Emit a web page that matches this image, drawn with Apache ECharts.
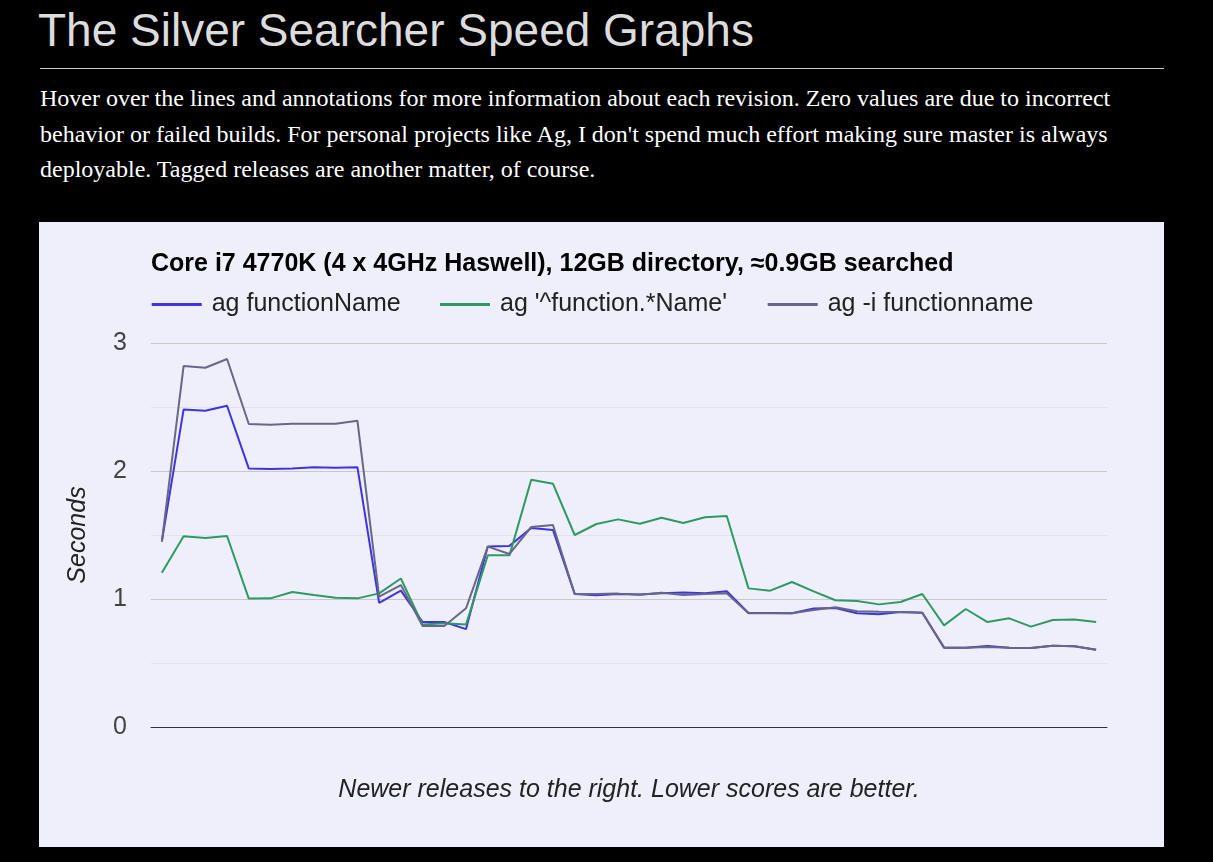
<!DOCTYPE html>
<html>
<head>
<meta charset="utf-8">
<script src="https://cdn.jsdelivr.net/npm/echarts@6/dist/echarts.min.js"></script>
<style>
  html, body { margin:0; padding:0; background:#000; width:1213px; height:862px; overflow:hidden; }
  #h1 { position:absolute; left:38px; top:7px; margin:0; font-family:"Liberation Sans", Arial, sans-serif; font-weight:normal; font-size:46px; line-height:46px; color:#dcdcdc; white-space:nowrap; }
  #hr { position:absolute; left:40px; top:68px; width:1124px; height:1px; background:#ccc; }
  #para { position:absolute; left:40px; top:81px; margin:0; font-family:"Liberation Serif", "Times New Roman", serif; font-size:24px; line-height:35.5px; color:#fff; white-space:nowrap; }
  #chart { position:absolute; left:39px; top:222px; width:1125px; height:625px; background:#efeffc; }
</style>
</head>
<body>
<h1 id="h1">The Silver Searcher Speed Graphs</h1>
<div id="hr"></div>
<p id="para">Hover over the lines and annotations for more information about each revision. Zero values are due to incorrect<br>behavior or failed builds. For personal projects like Ag, I don't spend much effort making sure master is always<br>deployable. Tagged releases are another matter, of course.</p>
<div id="chart"></div>
<script>
const chartTitle = "Core i7 4770K (4 x 4GHz Haswell), 12GB directory, \u22480.9GB searched";
const seriesNames = ["ag functionName", "ag '^function.*Name'", "ag -i functionname"];
const revisions = [];
for (let i = 1; i <= 44; i++) revisions.push("r" + i);
const yTicks = [0, 1, 2, 3];

const agFunctionName = [1.45, 2.48, 2.47, 2.51, 2.02, 2.015, 2.02, 2.03, 2.025, 2.03,
  0.97, 1.065, 0.82, 0.82, 0.765, 1.41, 1.415, 1.555, 1.54, 1.04,
  1.03, 1.04, 1.035, 1.045, 1.05, 1.045, 1.06, 0.89, 0.89, 0.888,
  0.925, 0.93, 0.888, 0.88, 0.898, 0.893, 0.62, 0.62, 0.633, 0.62,
  0.617, 0.635, 0.63, 0.604];
const agRegex = [1.205, 1.49, 1.477, 1.492, 1.003, 1.005, 1.055, 1.031, 1.01, 1.005,
  1.044, 1.16, 0.80, 0.81, 0.80, 1.341, 1.341, 1.932, 1.901, 1.5,
  1.586, 1.622, 1.588, 1.635, 1.594, 1.638, 1.648, 1.083, 1.065, 1.133,
  1.06, 0.99, 0.984, 0.958, 0.977, 1.039, 0.794, 0.922, 0.82, 0.849,
  0.784, 0.836, 0.839, 0.82];
const agIgnoreCase = [1.448, 2.82, 2.807, 2.875, 2.367, 2.362, 2.37, 2.37, 2.37, 2.393,
  1.018, 1.109, 0.789, 0.789, 0.927, 1.409, 1.352, 1.5625, 1.578, 1.039,
  1.039, 1.042, 1.033, 1.049, 1.031, 1.04, 1.044, 0.888, 0.888, 0.888,
  0.914, 0.935, 0.904, 0.90, 0.898, 0.893, 0.62, 0.62, 0.625, 0.62,
  0.617, 0.635, 0.63, 0.604];

const colors = ['#3f33e0', '#2e9a62', '#676788'];
const FONT = '"Liberation Sans", Arial, sans-serif';

const chart = echarts.init(document.getElementById('chart'), null, { renderer: 'canvas' });
const legendLefts = [112.7, 401, 728.7];
chart.setOption({
  backgroundColor: '#efeffc',
  animation: false,
  color: colors,
  title: {
    text: chartTitle, left: 112, top: 30, padding: 0,
    textStyle: { fontFamily: FONT, fontSize: 25, fontWeight: 'bold', color: '#000' }
  },
  legend: seriesNames.map((n, i) => ({
    data: [n], left: legendLefts[i], top: 70, padding: 0,
    icon: 'rect', itemWidth: 50, itemHeight: 3, selectedMode: false,
    textStyle: { fontFamily: FONT, fontSize: 25, color: '#222', padding: [0, 0, 0, 5] }
  })),
  grid: { left: 112, right: 57, top: 121, bottom: 120 },
  xAxis: {
    type: 'category', data: revisions, boundaryGap: true,
    axisTick: { show: false }, axisLabel: { show: false },
    axisLine: { show: true, lineStyle: { color: '#333', width: 1 } },
    name: 'Newer releases to the right. Lower scores are better.',
    nameLocation: 'middle', nameGap: 51,
    nameTextStyle: { fontFamily: FONT, fontSize: 25, fontStyle: 'italic', color: '#222' }
  },
  yAxis: {
    type: 'value', min: 0, max: 3, interval: 0.5,
    axisLine: { show: false }, axisTick: { show: false },
    axisLabel: {
      margin: 24, fontFamily: FONT, fontSize: 25, color: '#444',
      formatter: v => (yTicks.indexOf(v) >= 0 ? String(v) : '')
    },
    splitLine: { show: true, lineStyle: { color: ['#c8c8cc', '#e2e2ea'], width: 1 } },
    name: 'Seconds', nameLocation: 'middle', nameRotate: 90, nameGap: 60,
    nameTextStyle: { fontFamily: FONT, fontSize: 25, fontStyle: 'italic', color: '#222' }
  },
  series: [
    { name: seriesNames[0], type: 'line', data: agFunctionName, showSymbol: false, symbol: 'none', lineStyle: { width: 2, color: colors[0] } },
    { name: seriesNames[1], type: 'line', data: agRegex, showSymbol: false, symbol: 'none', lineStyle: { width: 2, color: colors[1] } },
    { name: seriesNames[2], type: 'line', data: agIgnoreCase, showSymbol: false, symbol: 'none', lineStyle: { width: 2, color: colors[2] } }
  ]
});
</script>
</body>
</html>
